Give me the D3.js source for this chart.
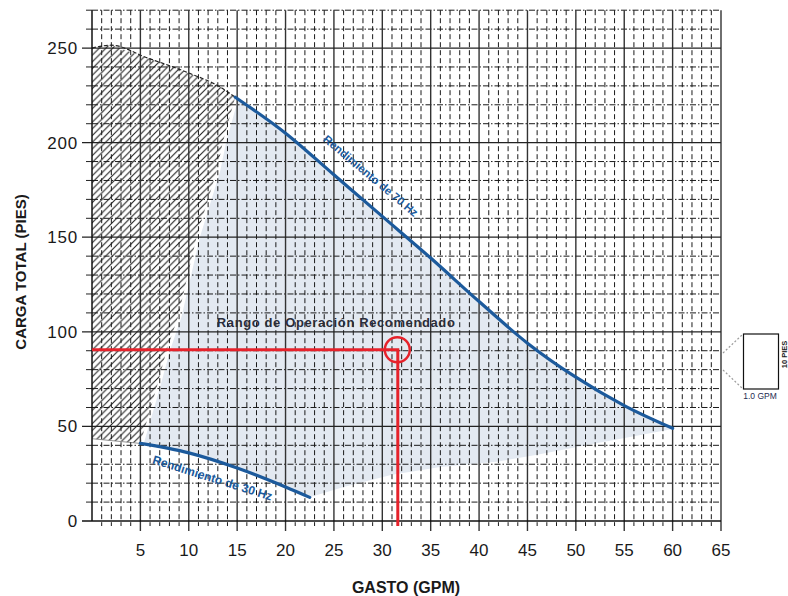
<!DOCTYPE html>
<html><head><meta charset="utf-8">
<script src="https://cdn.jsdelivr.net/npm/d3@7"></script>
<style>body{margin:0;background:#fff}svg{display:block}text{font-family:"Liberation Sans",Arial,sans-serif}</style>
</head><body>
<svg id="c" width="788" height="596"></svg>
<script>
// ---- data ----
const xTicks = [5,10,15,20,25,30,35,40,45,50,55,60,65];
const yTicks = [0,50,100,150,200,250];
const hz70 = [[14.8,224],[20,205],[25,183],[30,161],[35,139],[40,116],[45,94],[50,76],[55,61],[60,49]];
const hz30 = [[5,41],[10,36],[15,28],[20,18],[22.5,12.5]];
const hatchTop = [[0,250],[2,251.5],[5.6,245],[10.1,236.6],[13.2,229.5],[14.8,224]];
const hatchRight = [[14.8,224],[13.5,200],[12.9,185],[10.8,150],[8.9,108],[7.7,90],[6.7,71],[5,41]];
const hatchBottom = [[5,41],[0,43.5]];
const rangeLower = [[60,48.6],[52,41],[46,35],[42,31.5],[36,28.5],[31,24.5],[26,18],[22.5,12.5]];
const opPoint = [31.6, 90.5];
const labels = {x:"GASTO (GPM)", y:"CARGA TOTAL (PIES)", range:"Rango de Operación Recomendado",
  l70:"Rendimiento de 70 Hz", l30:"Rendimiento de 30 Hz", gpm:"1.0 GPM", pies:"10 PIES"};

// ---- layout ----
const svg = d3.select("#c");
const x = d3.scaleLinear().domain([0,65]).range([92,721]);
const y = d3.scaleLinear().domain([0,270]).range([521,10.2]);
const BLUE="#1c5a9c", RED="#e6222b", FILL="#e3e9f1";

// defs: hatch "/" lines
const S = 6.7;
const defs = svg.append("defs");
const pat = defs.append("pattern").attr("id","hatch").attr("patternUnits","userSpaceOnUse")
  .attr("width",S).attr("height",S);
pat.append("rect").attr("width",S).attr("height",S).attr("fill","#fff");
pat.append("path").attr("d",`M0,${S} L${S},0 M-1,1 L1,-1 M${S-1},${S+1} L${S+1},${S-1}`)
  .attr("stroke","#1a1a1a").attr("stroke-width",1.05);

const line = d3.line().x(d=>x(d[0])).y(d=>y(d[1]));
const smooth = d3.line().x(d=>x(d[0])).y(d=>y(d[1])).curve(d3.curveMonotoneX);

// recommended range region
const rightShift = hatchRight.map(d=>[d[0]+0.35,d[1]]);
const region = [].concat(hz70, rangeLower, hz30.slice().reverse(), rightShift.slice().reverse());
svg.append("path").attr("d", line(region)+"Z").attr("fill",FILL);

// hatch region
const hatchPoly = [].concat(hatchTop, hatchRight.slice(1), hatchBottom.slice(1));
svg.append("path").attr("d", d3.line().x(d=>x(d[0])).y(d=>y(d[1])).curve(d3.curveLinearClosed)(hatchPoly))
  .attr("fill","url(#hatch)");
svg.append("path").attr("d", smooth(hatchTop)).attr("fill","none").attr("stroke","#222")
  .attr("stroke-width",1.2).attr("stroke-dasharray","4,2");
svg.append("path").attr("d", line(hatchBottom)).attr("fill","none").attr("stroke","#888").attr("stroke-width",0.9);

// grid
const g = svg.append("g");
const minorX = d3.range(1,65).filter(v=>v%5!==0);
const majorX = d3.range(5,66,5);
const minorY = d3.range(10,271,10).filter(v=>v%50!==0);
const majorY = d3.range(50,251,50);
g.selectAll(".vx").data(minorX).join("line")
  .attr("x1",d=>x(d)).attr("x2",d=>x(d)).attr("y1",y(270)).attr("y2",y(0)+5)
  .attr("stroke","#1a1a1a").attr("stroke-width",1).attr("stroke-dasharray","5,3");
g.selectAll(".hy").data(minorY).join("line")
  .attr("x1",x(0)).attr("x2",x(65)).attr("y1",d=>y(d)).attr("y2",d=>y(d))
  .attr("stroke","#1a1a1a").attr("stroke-width",1).attr("stroke-dasharray","6,2,1.5,2");
g.selectAll(".Vx").data(majorX).join("line")
  .attr("x1",d=>x(d)).attr("x2",d=>x(d)).attr("y1",y(270)).attr("y2",y(0)+10)
  .attr("stroke","#333").attr("stroke-width",1.4);
g.selectAll(".Hy").data(majorY).join("line")
  .attr("x1",x(0)-10).attr("x2",x(65)).attr("y1",d=>y(d)).attr("y2",d=>y(d))
  .attr("stroke","#222").attr("stroke-width",1.3);
g.selectAll(".ty").data(minorY).join("line")
  .attr("x1",x(0)-6).attr("x2",x(0)).attr("y1",d=>y(d)).attr("y2",d=>y(d))
  .attr("stroke","#222").attr("stroke-width",1);
// axes
g.append("line").attr("x1",x(0)).attr("x2",x(0)).attr("y1",y(270)).attr("y2",y(0)).attr("stroke","#111").attr("stroke-width",1.5);
g.append("line").attr("x1",x(0)-10).attr("x2",x(65)).attr("y1",y(0)).attr("y2",y(0)).attr("stroke","#111").attr("stroke-width",1.5);

// tick labels
svg.selectAll(".xl").data(xTicks).join("text").attr("x",d=>x(d)).attr("y",555.5)
  .attr("text-anchor","middle").attr("font-size",17).attr("fill","#1a1a1a").text(d=>d);
svg.selectAll(".yl").data(yTicks).join("text").attr("x",78).attr("y",d=>y(d)+6)
  .attr("text-anchor","end").attr("font-size",17).attr("letter-spacing",0.8).attr("fill","#1a1a1a").text(d=>d);

// axis titles
svg.append("text").attr("x",406).attr("y",593).attr("text-anchor","middle").attr("font-size",16)
  .attr("font-weight","bold").attr("fill","#1a1a1a").text(labels.x);
svg.append("text").attr("transform","translate(26,272) rotate(-90)").attr("text-anchor","middle")
  .attr("font-size",15).attr("font-weight","bold").attr("fill","#1a1a1a").text(labels.y);

// curves
svg.append("path").attr("d",smooth(hz70)).attr("fill","none").attr("stroke",BLUE).attr("stroke-width",3.2).attr("stroke-linecap","round");
svg.append("path").attr("d",smooth(hz30)).attr("fill","none").attr("stroke",BLUE).attr("stroke-width",3.2).attr("stroke-linecap","round");

// curve labels
function angled(txt, gx, gy, ang, fs){
  svg.append("text").attr("transform",`translate(${x(gx)},${y(gy)}) rotate(${ang})`)
    .attr("text-anchor","middle").attr("dy","0.35em").attr("font-size",fs).attr("font-weight","bold")
    .attr("fill",BLUE).text(txt);
}
angled(labels.l70, 28.8, 182.5, 40, 11.5);
angled(labels.l30, 12.45, 22.8, 17.4, 12);

// range label
svg.append("text").attr("x",x(12.9)).attr("y",y(102.5)).attr("font-size",13).attr("font-weight","bold")
  .attr("fill","#2a2d3a").attr("textLength",238).text(labels.range);

// red operating point
svg.append("line").attr("x1",x(0)).attr("x2",x(opPoint[0])+1.5).attr("y1",y(opPoint[1])).attr("y2",y(opPoint[1]))
  .attr("stroke",RED).attr("stroke-width",3);
svg.append("line").attr("x1",x(opPoint[0])).attr("x2",x(opPoint[0])).attr("y1",y(opPoint[1])).attr("y2",y(0)+5)
  .attr("stroke",RED).attr("stroke-width",3);
svg.append("circle").attr("cx",x(opPoint[0])-0.5).attr("cy",y(opPoint[1])).attr("r",12.5)
  .attr("fill","none").attr("stroke",RED).attr("stroke-width",2.5);

// scale legend box
svg.append("rect").attr("x",743.5).attr("y",334).attr("width",35).attr("height",55)
  .attr("fill","#fff").attr("stroke","#111").attr("stroke-width",1.2);
svg.append("line").attr("x1",723).attr("y1",353).attr("x2",743).attr("y2",334).attr("stroke","#999").attr("stroke-width",1.2).attr("stroke-dasharray","2,2");
svg.append("line").attr("x1",723).attr("y1",370).attr("x2",743).attr("y2",389).attr("stroke","#999").attr("stroke-width",1.2).attr("stroke-dasharray","2,2");
svg.append("text").attr("x",760).attr("y",399).attr("text-anchor","middle").attr("font-size",8.5)
  .attr("fill","#1e2a50").text(labels.gpm);
svg.append("text").attr("transform","translate(786.5,354.5) rotate(-90)").attr("text-anchor","middle")
  .attr("font-size",7.5).attr("font-weight","bold").attr("fill","#1a1a1a").text(labels.pies);
</script>
</body></html>
